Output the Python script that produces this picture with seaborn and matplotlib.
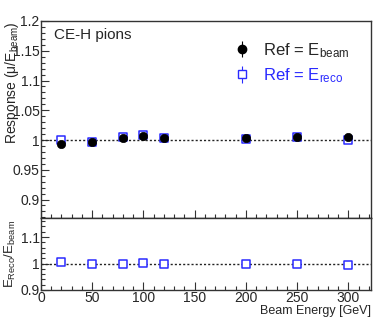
import numpy as np
import pandas as pd
import seaborn as sns
import matplotlib.pyplot as plt
from matplotlib.ticker import MultipleLocator, FuncFormatter

sns.set_style("ticks")
plt.rcParams['font.family'] = ['Liberation Sans', 'DejaVu Sans']
plt.rcParams['mathtext.fontset'] = 'custom'
plt.rcParams['mathtext.rm'] = 'Liberation Sans'
plt.rcParams['mathtext.it'] = 'Liberation Sans'

energy = [20, 50, 80, 100, 120, 200, 250, 300]
resp_beam = [0.9927, 0.997, 1.004, 1.0067, 1.004, 1.004, 1.005, 1.0055]
resp_reco = [0.9995, 0.9966, 1.0045, 1.0084, 1.004, 1.002, 1.005, 1.000]
ratio = [1.006, 0.9975, 1.000, 1.001, 0.9975, 0.9975, 1.000, 0.995]
err_beam = [0.001] * 8
err_reco = [0.001] * 8

df = pd.DataFrame({'E': energy, 'beam': resp_beam, 'reco': resp_reco, 'ratio': ratio})

blue = '#2a2aff'
frame = '#333333'

fig = plt.figure(figsize=(3.74, 3.22), dpi=100)
ax1 = fig.add_axes([0.1096, 0.323, 0.8824, 0.6118])
ax2 = fig.add_axes([0.1096, 0.0994, 0.8824, 0.2236])

fmt = FuncFormatter(lambda v, p: ('%g' % round(v, 3)))

# top panel
ax1.axhline(1.0, color='#222222', ls=(0, (1.5, 1.5)), lw=1.0, zorder=1)
ax1.errorbar(energy, resp_beam, yerr=err_beam, fmt='none', ecolor='black', lw=0.8)
ax1.errorbar(energy, resp_reco, yerr=err_reco, fmt='none', ecolor=blue, lw=0.8)
sns.scatterplot(data=df, x='E', y='reco', marker='s', s=36, facecolor='white',
                edgecolor=blue, linewidth=1.1, ax=ax1, zorder=3)
sns.scatterplot(data=df, x='E', y='beam', marker='o', s=36, color='black',
                edgecolor='black', linewidth=0.5, ax=ax1, zorder=4)

h1 = ax1.errorbar([], [], yerr=[], fmt='o', color='black', ms=6, capsize=2.5, lw=0.8)
h2 = ax1.errorbar([], [], yerr=[], fmt='s', color=blue, mfc='white', mec=blue,
                  ms=6, capsize=2.5, lw=0.8)
leg = ax1.legend([h1, h2], [r'Ref = E$_{\mathregular{beam}}$', r'Ref = E$_{\mathregular{reco}}$'],
                 loc='upper left', bbox_to_anchor=(0.54, 0.975), frameon=False,
                 fontsize=12, handlelength=0.9, handletextpad=0.8, labelspacing=0.4)
leg.get_texts()[1].set_color(blue)

ax1.text(0.04, 0.93, 'CE-H pions', transform=ax1.transAxes, fontsize=11,
         va='center', ha='left')

ax1.set_xlim(0, 322)
ax1.set_ylim(0.869, 1.2)
ax1.set_xlabel('')
ax1.set_ylabel(r'Response ($\mu$/E$_{\mathregular{beam}}$)', fontsize=10, loc='top')
ax1.yaxis.set_major_locator(MultipleLocator(0.05))
ax1.yaxis.set_minor_locator(MultipleLocator(0.01))
ax1.yaxis.set_major_formatter(fmt)
ax1.xaxis.set_major_locator(MultipleLocator(50))
ax1.xaxis.set_minor_locator(MultipleLocator(10))
ax1.tick_params(axis='x', labelbottom=False)

# bottom panel
ax2.axhline(1.0, color='#222222', ls=(0, (1.5, 1.5)), lw=1.0, zorder=1)
sns.scatterplot(data=df, x='E', y='ratio', marker='s', s=36, facecolor='white',
                edgecolor=blue, linewidth=1.1, ax=ax2, zorder=3)
ax2.set_xlim(0, 322)
ax2.set_ylim(0.9, 1.172)
ax2.set_xlabel('Beam Energy [GeV]', fontsize=9, loc='right', labelpad=0)
ax2.set_ylabel(r'E$_{\mathregular{Reco}}$/E$_{\mathregular{beam}}$', fontsize=9.5)
ax2.yaxis.set_major_locator(MultipleLocator(0.1))
ax2.yaxis.set_minor_locator(MultipleLocator(0.02))
ax2.yaxis.set_major_formatter(fmt)
ax2.xaxis.set_major_locator(MultipleLocator(50))
ax2.xaxis.set_minor_locator(MultipleLocator(10))

for ax in (ax1, ax2):
    for s in ax.spines.values():
        s.set_color(frame)
        s.set_linewidth(1.0)
    ax.tick_params(which='both', direction='in', color=frame, width=0.8,
                   labelsize=10, pad=1)
    ax.tick_params(which='major', length=6)
    ax.tick_params(which='minor', length=3)
ax1.spines['bottom'].set_color('black')

ax1.yaxis.set_label_coords(-0.06, 1.0)
ax2.yaxis.set_label_coords(-0.07, 0.5)

fig.savefig('out.png', dpi=100)
